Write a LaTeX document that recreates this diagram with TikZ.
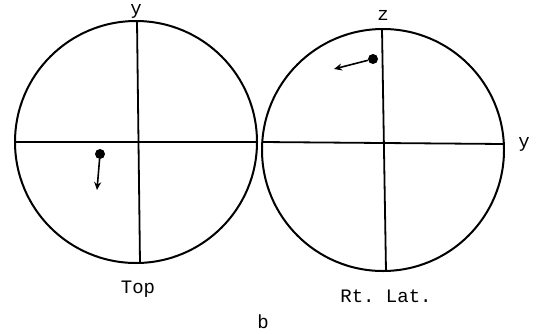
\documentclass[tikz,border=0pt]{standalone}
\usepackage{fontspec}
\setmonofont{Liberation Mono}
\usetikzlibrary{arrows.meta}
\begin{document}
\begin{tikzpicture}[x=1pt,y=-1pt,
  ring/.style={draw,line width=2pt},
  axis/.style={line width=1.8pt},
  vec/.style={line width=1.6pt,-{Stealth[length=8pt,width=7pt]}},
  dot/.style={circle,fill,inner sep=0pt,minimum size=10pt},
  lbl/.style={font=\ttfamily\fontsize{19}{19}\selectfont,inner sep=0pt}]
\useasboundingbox (0,0) rectangle (536,333);
% left circle
\node[ring,circle,minimum size=242pt,inner sep=0pt] (L) at (136,142) {};
\coordinate (Lt) at (137,21);
\coordinate (Lb) at (140,263);
\draw[axis] (Lt) -- (Lb);
\draw[axis] (L.west) -- (L.east);
\node[lbl] (ly) at (136,11) {y};
\node[dot] (ld) at (100,154) {};
\coordinate (la) at (97,190);
\draw[vec] (ld) -- (la);
\node[lbl] (top) at (138,289) {Top};
% right circle
\node[ring,circle,minimum size=242pt,inner sep=0pt] (R) at (383,150) {};
\coordinate (Rt) at (382,29);
\coordinate (Rb) at (386,271);
\coordinate (Rl) at (262,142);
\coordinate (Rr) at (504,144);
\draw[axis] (Rt) -- (Rb);
\draw[axis] (Rl) -- (Rr);
\node[lbl] (rz) at (383,15) {z};
\node[lbl] (ry) at (524,144) {y};
\node[dot] (rd) at (373,59) {};
\coordinate (ra) at (334,69);
\draw[vec] (rd) -- (ra);
\node[lbl] (lat) at (386,296) {Rt. Lat.};
\node[lbl] (b) at (263,322) {b};
\end{tikzpicture}
\end{document}
